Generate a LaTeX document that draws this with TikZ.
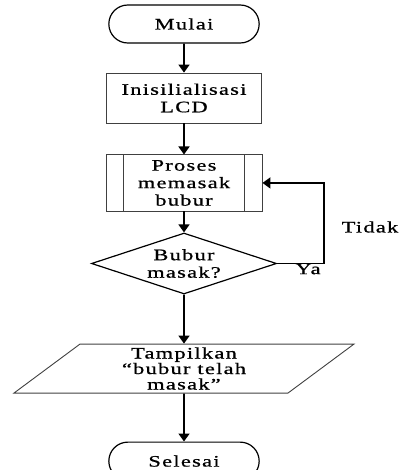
\documentclass[tikz,border=0pt]{standalone}
\usepackage{fontspec}
\setmainfont{Liberation Serif}[LetterSpace=8,FakeStretch=1.4,FakeBold=0.8]
\usepackage{tikz}
\usetikzlibrary{arrows.meta,calc,positioning,shapes.geometric,shapes.misc}

\begin{document}
\begin{tikzpicture}[
  x=1pt, y=-1pt,
  font=\fontsize{16}{17.5}\selectfont,
  >={Triangle[width=11pt,length=8pt]},
  term/.style={draw, line width=1.2pt, rounded rectangle,
    minimum width=157pt, minimum height=38pt},
  proc/.style={draw=black!75, line width=.9pt, align=center,
    minimum width=155pt, minimum height=50pt},
  sub/.style={proc, minimum width=156pt, minimum height=56pt},
  cond/.style={draw, line width=1.2pt, diamond, aspect=3, align=center,
    minimum width=185pt, minimum height=61pt, inner sep=0pt},
  io/.style={draw=black!75, line width=.9pt, trapezium, align=center,
    trapezium left angle=47, trapezium right angle=133,
    trapezium stretches=true, minimum width=341pt, minimum height=49pt,
    inner sep=0pt, font=\fontsize{16}{15.5}\selectfont},
  arrow/.style={->, line width=1.6pt},
  lbl/.style={inner sep=0pt}
]
\clip (0,0) rectangle (401,470);

\node[term] (mulai) at (184,24) {Mulai};
\node[proc, below=29pt of mulai] (init) {Inisilialisasi\\LCD};
\node[sub, below=31pt of init] (proses) {Proses\\memasak\\bubur};
\draw[draw=black!75, line width=.9pt]
  ($(proses.north west)+(18pt,0)$) -- ($(proses.south west)+(18pt,0)$);
\draw[draw=black!75, line width=.9pt]
  ($(proses.north east)+(-18pt,0)$) -- ($(proses.south east)+(-18pt,0)$);
\node[cond, below=21pt of proses] (cek) {Bubur\\masak?};
\node[io, below=49pt of cek] (tampil) {Tampilkan\\“bubur telah\\masak”};
\node[term, below=48pt of tampil] (selesai) {Selesai};

\draw[arrow] (mulai) -- (init);
\draw[arrow] (init) -- (proses);
\draw[arrow] (proses) -- (cek);
\draw[arrow] (cek) -- (tampil);
\draw[arrow] (tampil) -- (selesai);
\draw[arrow] (cek.east) -- ++(47pt,0) |- (proses.east);

\node[lbl] (tidak) at (370,227) {Tidak};
\node[lbl] (ya) at (308,269) {Ya};
\end{tikzpicture}
\end{document}
